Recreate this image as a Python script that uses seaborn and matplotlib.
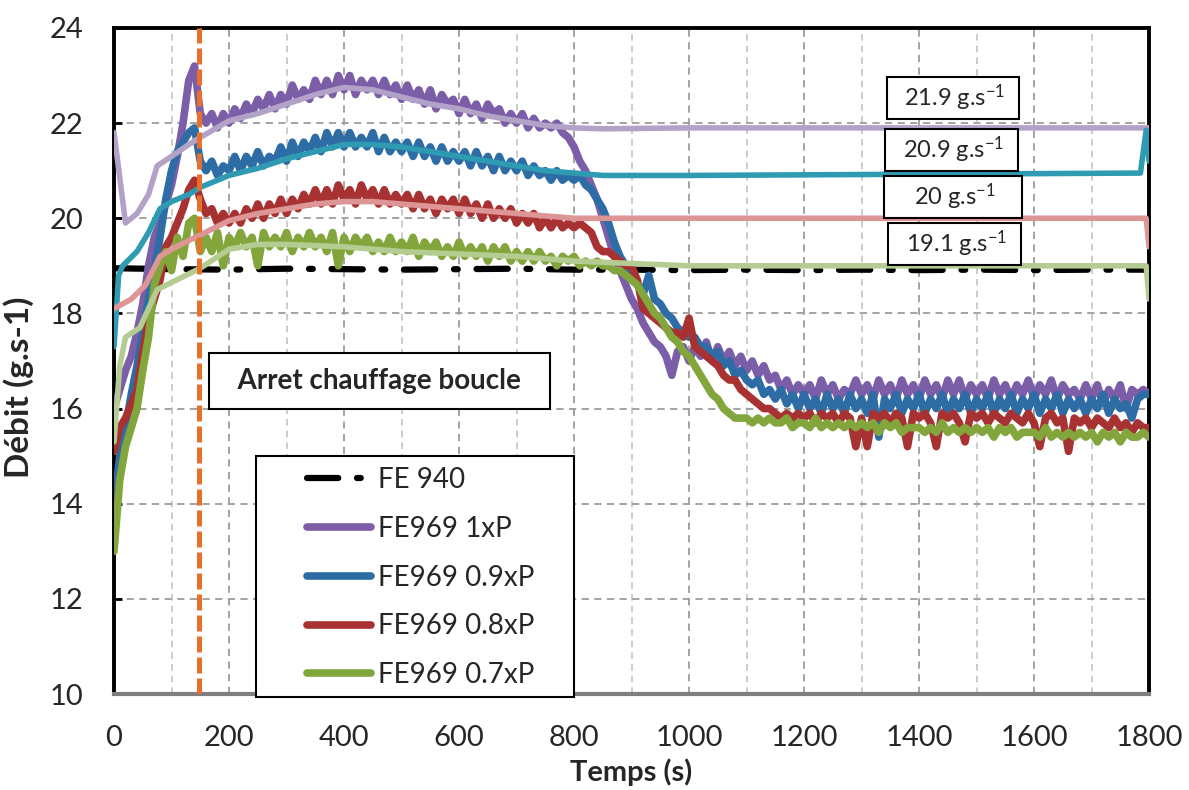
import matplotlib
matplotlib.use('Agg')
import matplotlib.pyplot as plt
import seaborn as sns
from matplotlib.patches import Rectangle
from matplotlib.ticker import MultipleLocator

# --- data (time in s, flow in g/s) ---
temps = list(range(0, 1801, 10))

fe969_1xp = [
    16.0, 16.4, 16.8, 17.1, 17.6, 18.2, 19.0, 19.6, 19.9, 20.3,
    20.7, 21.3, 22.0, 22.9, 23.2, 22.2, 22.0, 22.2, 21.9, 22.2,
    22.0, 22.3, 22.1, 22.4, 22.2, 22.5, 22.3, 22.6, 22.3, 22.6,
    22.4, 22.8, 22.5, 22.7, 22.5, 22.9, 22.6, 22.9, 22.6, 23.0,
    22.7, 23.0, 22.6, 22.9, 22.7, 22.9, 22.6, 22.9, 22.6, 22.8,
    22.5, 22.8, 22.5, 22.7, 22.4, 22.7, 22.3, 22.6, 22.4, 22.5,
    22.2, 22.5, 22.2, 22.4, 22.1, 22.4, 22.2, 22.3, 22.0, 22.2,
    22.0, 22.2, 21.9, 22.1, 21.9, 22.0, 21.9, 22.0, 21.8, 21.7,
    21.5, 21.2, 21.0, 20.7, 20.4, 20.0, 19.6, 19.2, 18.9, 18.6,
    18.3, 18.1, 17.8, 17.6, 17.4, 17.3, 17.1, 16.7, 17.2, 17.3,
    17.0, 17.3, 17.1, 17.4, 17.0, 17.3, 17.0, 17.2, 16.9, 17.1,
    16.8, 17.0, 16.7, 16.9, 16.6, 16.7, 16.4, 16.6, 16.3, 16.5,
    16.3, 16.5, 16.2, 16.6, 16.3, 16.5, 16.2, 16.4, 16.3, 16.6,
    16.3, 16.5, 16.2, 16.6, 16.3, 16.5, 16.2, 16.6, 16.3, 16.5,
    16.2, 16.6, 16.3, 16.5, 16.2, 16.6, 16.3, 16.6, 16.2, 16.5,
    16.3, 16.5, 16.2, 16.6, 16.3, 16.5, 16.2, 16.5, 16.3, 16.6,
    16.2, 16.5, 16.3, 16.6, 16.2, 16.5, 16.3, 16.4, 16.2, 16.5,
    16.2, 16.5, 16.1, 16.4, 16.2, 16.5, 16.0, 16.4, 16.3, 16.4,
    16.3]

fe969_09xp = [
    14.0, 15.0, 15.6, 16.3, 16.9, 17.6, 18.3, 18.9, 19.6, 20.4,
    21.0, 21.4, 21.6, 21.8, 21.9, 21.2, 21.0, 21.2, 20.9, 21.1,
    21.0, 21.3, 21.0, 21.3, 21.1, 21.4, 21.1, 21.3, 21.2, 21.5,
    21.2, 21.6, 21.3, 21.6, 21.4, 21.7, 21.4, 21.8, 21.5, 21.8,
    21.5, 21.8, 21.5, 21.7, 21.5, 21.8, 21.4, 21.7, 21.4, 21.6,
    21.4, 21.6, 21.3, 21.6, 21.3, 21.5, 21.2, 21.5, 21.2, 21.4,
    21.2, 21.4, 21.1, 21.4, 21.1, 21.3, 21.0, 21.3, 21.0, 21.2,
    21.0, 21.2, 20.9, 21.1, 20.9, 21.0, 20.8, 21.0, 20.8, 20.9,
    20.8, 20.9, 20.7, 20.6, 20.4, 20.2, 19.9, 19.5, 19.2, 19.0,
    18.8, 18.6, 18.4, 18.8, 18.3, 18.2, 18.0, 17.9, 17.7, 17.6,
    17.5, 17.5, 17.3, 17.3, 17.1, 17.2, 16.9, 17.0, 16.7, 16.8,
    16.6, 16.5, 16.6, 16.3, 16.4, 16.2, 16.4, 16.1, 16.3, 16.0,
    16.3, 16.0, 16.2, 15.9, 16.3, 16.0, 16.2, 15.9, 16.3, 16.0,
    16.2, 15.9, 16.3, 15.4, 16.2, 16.0, 16.3, 15.9, 16.2, 16.0,
    16.3, 15.9, 16.2, 16.0, 16.3, 15.9, 16.2, 16.0, 16.3, 15.9,
    16.2, 16.0, 16.3, 15.9, 16.2, 16.0, 16.3, 15.9, 16.2, 16.0,
    16.3, 15.9, 16.2, 16.0, 16.3, 15.9, 16.2, 16.0, 16.2, 15.9,
    16.2, 16.0, 16.3, 15.9, 16.2, 16.0, 16.1, 15.8, 16.2, 16.3,
    16.3]

fe969_08xp = [
    15.1, 15.6, 15.8, 16.1, 16.4, 17.2, 17.9, 18.3, 18.7, 19.4,
    19.6, 19.9, 20.2, 20.6, 20.8, 20.4, 20.1, 20.2, 19.9, 20.1,
    19.9, 20.1, 19.9, 20.2, 20.0, 20.3, 20.0, 20.3, 20.1, 20.4,
    20.1, 20.4, 20.2, 20.5, 20.3, 20.6, 20.3, 20.6, 20.3, 20.7,
    20.4, 20.6, 20.3, 20.7, 20.4, 20.6, 20.3, 20.6, 20.3, 20.5,
    20.3, 20.5, 20.2, 20.5, 20.2, 20.4, 20.1, 20.4, 20.2, 20.4,
    20.1, 20.4, 20.1, 20.3, 20.0, 20.3, 20.0, 20.2, 20.0, 20.2,
    19.9, 20.1, 19.9, 20.1, 19.8, 20.0, 19.8, 20.0, 19.8, 19.9,
    19.8, 19.9, 19.8, 19.7, 19.4, 19.3, 19.3, 19.2, 19.1, 19.0,
    19.0, 18.7, 18.1, 18.0, 17.9, 17.8, 17.7, 17.6, 17.6, 17.5,
    17.9, 17.3, 17.2, 17.1, 17.0, 16.9, 16.7, 16.6, 16.6, 16.4,
    16.3, 16.2, 16.1, 16.0, 16.0, 15.9, 15.8, 15.9, 15.8, 15.9,
    15.8, 15.9, 15.7, 15.9, 15.8, 15.9, 15.7, 15.9, 15.8, 15.2,
    15.8, 15.2, 15.9, 15.8, 15.9, 15.7, 15.9, 15.8, 15.2, 15.9,
    15.8, 15.9, 15.7, 15.2, 15.9, 15.8, 15.9, 15.7, 15.3, 15.9,
    15.8, 15.9, 15.7, 15.9, 15.8, 15.7, 15.9, 15.8, 15.7, 15.9,
    15.7, 15.2, 15.8, 15.9, 15.7, 15.8, 15.1, 15.8, 15.7, 15.8,
    15.6, 15.8, 15.7, 15.6, 15.8, 15.6, 15.7, 15.5, 15.7, 15.6,
    15.6]

fe969_07xp = [
    13.0, 14.5, 15.2, 15.6, 16.0, 16.8, 17.5, 18.6, 19.0, 19.3,
    18.9, 19.6, 19.2, 19.9, 20.0, 19.3, 19.6, 19.3, 19.7, 19.0,
    19.6, 19.4, 19.7, 19.4, 19.6, 19.0, 19.7, 19.4, 19.6, 19.4,
    19.7, 19.3, 19.6, 19.4, 19.7, 19.4, 19.6, 19.3, 19.7, 19.0,
    19.6, 19.3, 19.6, 19.4, 19.6, 19.3, 19.5, 19.3, 19.6, 19.3,
    19.5, 19.3, 19.6, 19.2, 19.5, 19.3, 19.5, 19.2, 19.4, 19.2,
    19.5, 19.2, 19.4, 19.2, 19.4, 19.1, 19.4, 19.2, 19.4, 19.1,
    19.3, 19.1, 19.3, 19.1, 19.3, 19.1, 19.2, 19.0, 19.2, 19.1,
    19.2, 19.0, 19.1, 19.0, 19.1, 19.0, 19.0, 18.9, 18.9, 18.8,
    18.7, 18.6, 18.4, 18.2, 18.0, 17.9, 17.7, 17.5, 17.4, 17.2,
    17.1, 16.9, 16.7, 16.5, 16.3, 16.2, 16.0, 15.9, 15.8, 15.8,
    15.8, 15.7, 15.8, 15.7, 15.8, 15.7, 15.7, 15.8, 15.6, 15.7,
    15.7, 15.6, 15.8, 15.6, 15.7, 15.6, 15.7, 15.6, 15.7, 15.6,
    15.7, 15.6, 15.7, 15.5, 15.7, 15.6, 15.7, 15.5, 15.6, 15.6,
    15.6, 15.5, 15.6, 15.5, 15.7, 15.5, 15.6, 15.5, 15.6, 15.5,
    15.6, 15.5, 15.6, 15.4, 15.6, 15.5, 15.6, 15.4, 15.5, 15.5,
    15.5, 15.4, 15.6, 15.4, 15.5, 15.4, 15.5, 15.4, 15.5, 15.4,
    15.5, 15.3, 15.5, 15.4, 15.5, 15.3, 15.5, 15.4, 15.4, 15.5,
    15.4]

fe940_t = [0, 100, 200, 300, 400, 500, 600, 700, 800, 900, 1000,
           1100, 1200, 1300, 1400, 1500, 1600, 1700, 1800]
fe940 = [18.95, 18.93, 18.92, 18.94, 18.93, 18.92, 18.93, 18.94, 18.92, 18.92,
         18.91, 18.92, 18.91, 18.92, 18.91, 18.92, 18.91, 18.92, 18.92]

# smoothed (moving average) curves
moy_1xp_t = [0, 20, 40, 60, 75, 100, 130, 150, 200, 250, 300, 350, 400, 450,
             500, 550, 600, 650, 700, 750, 800, 850, 1000, 1800]
moy_1xp = [21.8, 19.9, 20.1, 20.5, 21.1, 21.3, 21.55, 21.7, 22.05, 22.2, 22.4,
           22.6, 22.75, 22.7, 22.55, 22.4, 22.3, 22.15, 22.05, 21.95, 21.9,
           21.88, 21.9, 21.9]

moy_09xp_t = [0, 8, 15, 40, 60, 80, 100, 130, 150, 200, 250, 300, 350, 400, 450,
              500, 550, 600, 650, 700, 750, 800, 850, 1000, 1785, 1795, 1800]
moy_09xp = [17.3, 18.8, 19.0, 19.3, 19.7, 20.2, 20.35, 20.5, 20.65, 20.9, 21.05,
            21.25, 21.4, 21.55, 21.55, 21.5, 21.4, 21.3, 21.2, 21.1, 21.0,
            20.95, 20.9, 20.9, 20.95, 21.85, 21.2]

moy_08xp_t = [0, 30, 55, 80, 100, 150, 200, 250, 300, 350, 400, 450, 500, 600,
              700, 800, 1000, 1795, 1800]
moy_08xp = [18.1, 18.3, 18.6, 19.2, 19.35, 19.65, 19.95, 20.1, 20.2, 20.3, 20.35,
            20.35, 20.3, 20.2, 20.1, 20.0, 20.0, 20.0, 19.4]

moy_07xp_t = [0, 10, 20, 45, 60, 75, 100, 150, 200, 250, 300, 400, 500, 600,
              700, 800, 1000, 1200, 1795, 1800]
moy_07xp = [15.3, 16.9, 17.5, 17.7, 18.1, 18.5, 18.65, 18.95, 19.35, 19.45,
            19.45, 19.4, 19.3, 19.25, 19.2, 19.1, 19.0, 19.0, 19.0, 18.3]

arret_t = 148
valeurs_txt = ['21.9', '20.9', '20', '19.1']
valeurs_pos = [(1459, 22.53), (1457, 21.44), (1459, 20.45), (1462, 19.46)]

# --- style ---
sns.set_theme(style='white')
plt.rcParams['font.family'] = ['Lato', 'DejaVu Sans']
plt.rcParams['mathtext.fontset'] = 'custom'
plt.rcParams['mathtext.rm'] = 'Lato'
plt.rcParams['mathtext.it'] = 'Lato'
plt.rcParams['mathtext.default'] = 'regular'

fig, ax = plt.subplots(figsize=(11.89, 7.90), dpi=100)
fig.subplots_adjust(left=0.0959, right=0.9664, bottom=0.1215, top=0.9646)

def trace(x, y, color, lw, z):
    sns.lineplot(x=x, y=y, color=color, lw=lw, ax=ax, zorder=z,
                 legend=False, solid_capstyle='round', solid_joinstyle='round')
    return ax.lines[-1]

l940 = trace(fe940_t, fe940, 'black', 4.5, 3)
l940.set_dashes([5, 3, 0.6, 3])
l940.set_dash_capstyle('round')

l1 = trace(temps, fe969_1xp, '#7b5ea7', 5.5, 4)
l09 = trace(temps, fe969_09xp, '#2e6ca6', 5.5, 4)
l08 = trace(temps, fe969_08xp, '#a83232', 5.5, 4)
l07 = trace(temps, fe969_07xp, '#83a63c', 5.5, 4)

trace(moy_1xp_t, moy_1xp, '#b3a2c8', 4, 5)
trace(moy_09xp_t, moy_09xp, '#2e9bb3', 4, 5)
trace(moy_08xp_t, moy_08xp, '#de9596', 4, 5)
trace(moy_07xp_t, moy_07xp, '#b4cc91', 4, 5)

ax.axvline(arret_t, color='#e8702a', lw=3.6, dashes=(3.2, 1.0), zorder=6)

# axes, grid
ax.set_xlim(0, 1800)
ax.set_ylim(10, 24)
ax.xaxis.set_major_locator(MultipleLocator(200))
ax.xaxis.set_minor_locator(MultipleLocator(100))
ax.yaxis.set_major_locator(MultipleLocator(2))
ax.set_axisbelow(True)
ax.grid(which='major', color='#9c9c9c', lw=1.3, dashes=(4, 3))
ax.grid(which='minor', axis='x', color='#c4c4c4', lw=1.2, dashes=(4, 3))

ax.tick_params(axis='y', which='major', direction='in', length=6, width=2,
               color='black', labelsize=21, pad=22, left=True)
ax.tick_params(axis='x', which='both', length=0, labelsize=21, pad=22)
for side in ['left', 'top', 'right']:
    ax.spines[side].set_color('black')
    ax.spines[side].set_linewidth(2.8)
ax.spines['bottom'].set_color('#7f7f7f')
ax.spines['bottom'].set_linewidth(3)

ax.set_xlabel('Temps (s)', fontsize=21, fontweight='bold', labelpad=6)
ax.set_ylabel('Débit (g.s-1)', fontsize=24, fontweight='bold')
ax.yaxis.set_label_coords(-0.077, 0.46)

# annotations
ax.text(462, 16.58, '  Arret chauffage boucle  ', fontsize=20, fontweight='bold',
        ha='center', va='center', zorder=7,
        bbox=dict(boxstyle='square,pad=0.55', fc='white', ec='black', lw=1.5))
for txt, (xv, yv) in zip(valeurs_txt, valeurs_pos):
    pad = '  ' if len(txt) > 2 else '    '
    ax.text(xv, yv, pad + txt + ' g.s$^{-1}$' + pad, fontsize=17, ha='center',
            va='center', zorder=7,
            bbox=dict(boxstyle='square,pad=0.25', fc='white', ec='black', lw=1.5))

# legend with its own frame
ax.add_patch(Rectangle((0.137, -0.005), 0.307, 0.362, transform=ax.transAxes,
                       fc='white', ec='black', lw=1.5, zorder=8, clip_on=False))
leg = ax.legend([l940, l1, l09, l08, l07],
                ['FE 940', 'FE969 1xP', 'FE969 0.9xP', 'FE969 0.8xP', 'FE969 0.7xP'],
                loc='upper left', bbox_to_anchor=(0.168, 0.37), frameon=False,
                fontsize=20, handlelength=2.3, handletextpad=0.25,
                labelspacing=0.82, borderpad=0.2)
leg.set_zorder(9)

plt.savefig('out.png', dpi=100)
